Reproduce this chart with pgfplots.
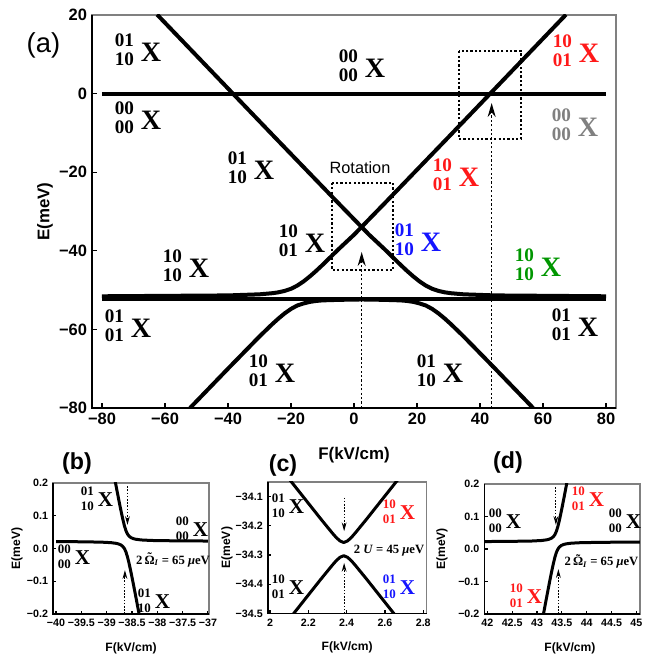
\documentclass[border=0pt]{standalone}
\usepackage{fontspec}
\setmainfont{Liberation Serif}
\setsansfont{Liberation Sans}
\usepackage{pgfplots}
\pgfplotsset{compat=1.18}
\usetikzlibrary{arrows.meta}

\definecolor{sred}{RGB}{255,25,25}
\definecolor{sblue}{RGB}{20,20,255}
\definecolor{sgreen}{RGB}{0,150,0}
\definecolor{sgray}{RGB}{128,128,128}

% state labels: stacked indices followed by a big X
\newcommand{\stA}[3][black]{{\color{#1}\bfseries\raisebox{3.2pt}{\fontsize{13.6}{13.5}\selectfont\begin{tabular}{@{}c@{}}#2\\#3\end{tabular}}\hspace{1.7mm}{\fontsize{20}{20}\selectfont X}}}
\newcommand{\stB}[3][black]{{\color{#1}\bfseries\raisebox{2.6pt}{\fontsize{9.2}{10.7}\selectfont\begin{tabular}{@{}c@{}}#2\\#3\end{tabular}}\hspace{1mm}{\fontsize{15}{15}\selectfont X}}}
% Omega with tilde, subscript I
\newcommand{\OmI}{{\accent"02DC Ω}\textsubscript{\itshape I}}

\tikzset{
  boxsty/.style={line width=0.4mm, dash pattern=on 0.55mm off 0.55mm},
  arrsty/.style={line width=0.4mm, dash pattern=on 0.55mm off 0.55mm, -{Stealth[length=3.5mm,width=2mm]}},
  arrsub/.style={line width=0.25mm, dash pattern=on 0.4mm off 0.4mm, -{Stealth[length=2.2mm,width=1.2mm]}},
}

\pgfplotsset{
  every axis/.append style={
    scale only axis, clip mode=individual,
    tick align=inside, xtick pos=bottom, ytick pos=left,
    axis line style={black!50, line width=0.3mm},
    tick style={black, line width=0.3mm},
  },
  subpanel/.style={
    width=39mm, height=32.75mm, major tick length=0.8mm,
    ticklabel style={font=\sffamily\bfseries\fontsize{7.6}{8}\selectfont},
    xlabel={F(kV/cm)}, ylabel={E(meV)},
    label style={font=\sffamily\bfseries\fontsize{8.6}{9}\selectfont},
  },
}

\begin{document}
\begin{tikzpicture}[x=0.25mm,y=0.25mm]
\useasboundingbox (0,0) rectangle (659,658);

% ---------------- (a) ----------------
\begin{axis}[
  at={(23mm,160.75mm)}, anchor=north west, width=131mm, height=98.25mm,
  xmin=-83.17, xmax=83.17, ymin=-80, ymax=20,
  xtick={-80,-60,...,80}, xticklabels={−80,−60,−40,−20,0,20,40,60,80},
  ytick={-80,-60,...,20}, yticklabels={−80,−60,−40,−20,0,20},
  major tick length=1.3mm,
  ticklabel style={font=\sffamily\bfseries\fontsize{11.7}{12}\selectfont},
  xlabel={F(kV/cm)}, ylabel={E(meV)},
  label style={font=\sffamily\bfseries\fontsize{12}{12}\selectfont},
  xlabel style={at={(axis description cs:0.5,-0.1196)}, anchor=center},
  ylabel style={at={(axis description cs:-0.0897,0.5)}, anchor=center},
]
\addplot[black, line width=1mm] coordinates {(-80,0) (80,0)};
\addplot[black, line width=1mm] coordinates {(-80,-52.2) (80,-52.2)};
% rising branch
\addplot[black, line width=1mm, line join=round] coordinates {
  (-80,-51.58) (-40,-51.36) (-30,-51.08) (-26,-50.80) (-24,-50.57) (-22,-50.21)
  (-20,-49.67) (-18,-48.86) (-16,-47.79) (-14,-46.51) (-12,-45.10) (-10,-43.60)
  (-5,-39.67) (0,-35.92) (10,-27.69) (30,-11.07) (67.3,20.1)};
% falling branch
\addplot[black, line width=1mm, line join=round] coordinates {
  (-62.5,20.1) (-25.2,-11.07) (-5.2,-27.69) (4.8,-35.92) (9.8,-39.67)
  (14.8,-43.60) (16.8,-45.10) (18.8,-46.51) (20.8,-47.79) (22.8,-48.86)
  (24.8,-49.67) (26.8,-50.21) (28.8,-50.57) (30.8,-50.80) (34.8,-51.08)
  (44.8,-51.36) (80,-51.58)};
% lowest branch
\addplot[black, line width=1mm, line join=round] coordinates {
  (-52.05,-80) (-40,-70.0) (-30,-61.8) (-26,-58.7) (-24,-57.25) (-22,-55.92)
  (-20,-54.79) (-18,-53.92) (-16,-53.40) (-14,-53.00) (-12,-52.76) (-10,-52.62)
  (-5,-52.49) (0,-52.41) (2.4,-52.39) (4.8,-52.41) (9.8,-52.49) (14.8,-52.62)
  (16.8,-52.76) (18.8,-53.00) (20.8,-53.40) (22.8,-53.92) (24.8,-54.79)
  (26.8,-55.92) (28.8,-57.25) (30.8,-58.7) (34.8,-61.8) (44.8,-70.0) (56.85,-80)};
\draw[boxsty] (axis cs:-7.0,-22.7) rectangle (axis cs:12.4,-44.9);
\draw[boxsty] (axis cs:33.3,10.8) rectangle (axis cs:53,-11.55);
\draw[arrsty] (axis cs:2.44,-80) -- (axis cs:2.44,-40.3);
\draw[arrsty] (axis cs:43.7,-80) -- (axis cs:43.7,-2.4);
\draw[black, line width=0.45mm] (rel axis cs:0,1) -- (rel axis cs:0,0) -- (rel axis cs:1,0);
\end{axis}

% ---------------- (b) ----------------
\begin{axis}[subpanel,
  at={(13.25mm,43.75mm)}, anchor=north west,
  xmin=-40.06, xmax=-36.98, ymin=-0.2, ymax=0.2,
  xtick={-40,-39.5,...,-37}, xticklabels={−40,−39.5,−39,−38.5,−38,−37.5,−37},
  ytick={-0.2,-0.1,0,0.1,0.2}, yticklabels={−0.2,−0.1,0.0,0.1,0.2},
  xlabel style={at={(axis description cs:0.5,-0.2595)}, anchor=center},
  ylabel style={at={(axis description cs:-0.2308,0.5)}, anchor=center},
]
\addplot[black, line width=0.75mm, line join=round] coordinates {
  (-38.83,0.2035) (-38.80,0.1793) (-38.77,0.1554) (-38.74,0.1320) (-38.71,0.1094)
  (-38.68,0.0882) (-38.65,0.0694) (-38.62,0.0545) (-38.59,0.0443) (-38.56,0.0380)
  (-38.52,0.0331) (-38.47,0.0299) (-38.42,0.0281) (-38.32,0.0261) (-38.12,0.0245)
  (-37.62,0.0233) (-37.00,0.0228)};
\addplot[black, line width=0.75mm, line join=round] coordinates {
  (-40.00,0.0210) (-39.62,0.0207) (-39.12,0.0195) (-38.92,0.0179) (-38.82,0.0159)
  (-38.77,0.0141) (-38.72,0.0109) (-38.68,0.0060) (-38.65,-0.0003) (-38.62,-0.0105)
  (-38.59,-0.0254) (-38.56,-0.0442) (-38.53,-0.0654) (-38.50,-0.0880) (-38.47,-0.1114)
  (-38.44,-0.1353) (-38.41,-0.1595) (-38.38,-0.1840) (-38.36,-0.2000)};
\draw[arrsub] (axis cs:-38.59,0.19) -- (axis cs:-38.59,0.072);
\draw[arrsub] (axis cs:-38.64,-0.2) -- (axis cs:-38.64,-0.066);
\draw[black, line width=0.4mm] (rel axis cs:0,1) -- (rel axis cs:0,0) -- (rel axis cs:1,0);
\end{axis}

% ---------------- (c) ----------------
\begin{axis}[subpanel,
  at={(66.925mm,44mm)}, anchor=north west, width=39.75mm, height=32.9mm,
  xmin=1.988, xmax=2.818, ymin=-34.5, ymax=-34.051,
  xtick={2,2.2,2.4,2.6,2.8}, xticklabels={2,2.2,2.4,2.6,2.8},
  ytick={-34.5,-34.4,-34.3,-34.2,-34.1}, yticklabels={−34.5,−34.4,−34.3,−34.2,−34.1},
  xlabel style={at={(axis description cs:0.5,-0.258)}, anchor=center},
  ylabel style={at={(axis description cs:-0.256,0.5)}, anchor=center},
]
\addplot[black, line width=0.75mm, line join=round] coordinates {
  (2.105,-34.045) (2.145,-34.078) (2.185,-34.111) (2.225,-34.144) (2.265,-34.177)
  (2.305,-34.209) (2.325,-34.225) (2.345,-34.240) (2.365,-34.252) (2.385,-34.2575)
  (2.405,-34.252) (2.425,-34.240) (2.445,-34.225) (2.465,-34.209) (2.505,-34.177)
  (2.545,-34.144) (2.585,-34.111) (2.625,-34.078) (2.665,-34.045)};
\addplot[black, line width=0.75mm, line join=round] coordinates {
  (2.105,-34.515) (2.145,-34.482) (2.185,-34.449) (2.225,-34.416) (2.265,-34.383)
  (2.305,-34.351) (2.325,-34.335) (2.345,-34.320) (2.365,-34.308) (2.385,-34.3025)
  (2.405,-34.308) (2.425,-34.320) (2.445,-34.335) (2.465,-34.351) (2.505,-34.383)
  (2.545,-34.416) (2.585,-34.449) (2.625,-34.482) (2.665,-34.515)};
\draw[arrsub] (axis cs:2.387,-34.104) -- (axis cs:2.387,-34.219);
\draw[arrsub] (axis cs:2.387,-34.5) -- (axis cs:2.387,-34.327);
\draw[black, line width=0.4mm] (rel axis cs:0,1) -- (rel axis cs:0,0) -- (rel axis cs:1,0);
\end{axis}

% ---------------- (d) ----------------
\begin{axis}[subpanel,
  at={(121.075mm,43.5mm)}, anchor=north west, width=38.9mm, height=32.5mm,
  xmin=41.94, xmax=45.07, ymin=-0.2, ymax=0.2,
  xtick={42,42.5,...,45}, xticklabels={42,42.5,43,43.5,44,44.5,45},
  ytick={-0.2,-0.1,0,0.1,0.2}, yticklabels={−0.2,−0.1,0.0,0.1,0.2},
  xlabel style={at={(axis description cs:0.55,-0.2615)}, anchor=center},
  ylabel style={at={(axis description cs:-0.272,0.5)}, anchor=center},
]
\addplot[black, line width=0.75mm, line join=round] coordinates {
  (41.89,0.0229) (42.39,0.0233) (42.89,0.0245) (43.09,0.0261) (43.19,0.0281)
  (43.24,0.0299) (43.29,0.0331) (43.33,0.0380) (43.36,0.0443) (43.39,0.0545)
  (43.42,0.0694) (43.45,0.0882) (43.48,0.1094) (43.51,0.1320) (43.54,0.1554)
  (43.57,0.1793) (43.60,0.2035)};
\addplot[black, line width=0.75mm, line join=round] coordinates {
  (43.13,-0.2000) (43.15,-0.1840) (43.18,-0.1595) (43.21,-0.1353) (43.24,-0.1114)
  (43.27,-0.0880) (43.30,-0.0654) (43.33,-0.0442) (43.36,-0.0254) (43.39,-0.0105)
  (43.42,-0.0003) (43.45,0.0060) (43.49,0.0109) (43.54,0.0141) (43.59,0.0159)
  (43.69,0.0179) (43.89,0.0195) (44.39,0.0207) (45.09,0.0211)};
\draw[arrsub] (axis cs:43.38,0.19) -- (axis cs:43.38,0.074);
\draw[arrsub] (axis cs:43.43,-0.2) -- (axis cs:43.43,-0.062);
\draw[black, line width=0.4mm] (rel axis cs:0,1) -- (rel axis cs:0,0) -- (rel axis cs:1,0);
\end{axis}

% ---------------- annotations ----------------
\node at (43.5,613) {\sffamily\fontsize{19.5}{20}\selectfont (a)};
\node at (77,194) {\sffamily\bfseries\fontsize{16.5}{17}\selectfont (b)};
\node at (283,192) {\sffamily\bfseries\fontsize{16.5}{17}\selectfont (c)};
\node at (508,195) {\sffamily\bfseries\fontsize{16.5}{17}\selectfont (d)};
\node at (360,490) {\sffamily\fontsize{11.6}{12}\selectfont Rotation};

\node[inner sep=0pt] at (138,606) {\stA{01}{10}};
\node[inner sep=0pt] at (138,538) {\stA{00}{00}};
\node[inner sep=0pt] at (251,488) {\stA{01}{10}};
\node[inner sep=0pt] at (362,590) {\stA{00}{00}};
\node[inner sep=0pt] at (576,605) {\stA[sred]{10}{01}};
\node[inner sep=0pt] at (575,531) {\stA[sgray]{00}{00}};
\node[inner sep=0pt] at (456,481) {\stA[sred]{10}{01}};
\node[inner sep=0pt] at (418,416) {\stA[sblue]{01}{10}};
\node[inner sep=0pt] at (538,391) {\stA[sgreen]{10}{10}};
\node[inner sep=0pt] at (575,331) {\stA{01}{01}};
\node[inner sep=0pt] at (440,285) {\stA{01}{10}};
\node[inner sep=0pt] at (302,415) {\stA{10}{01}};
\node[inner sep=0pt] at (186,390) {\stA{10}{10}};
\node[inner sep=0pt] at (128,330) {\stA{01}{01}};
\node[inner sep=0pt] at (272,285) {\stA{10}{01}};

\node[inner sep=0pt] at (97,158) {\stB{01}{10}};
\node[inner sep=0pt] at (192,128) {\stB{00}{00}};
\node[inner sep=0pt] at (74,100) {\stB{00}{00}};
\node[inner sep=0pt] at (154,56) {\stB{01}{10}};
\node at (173,98) {\bfseries\fontsize{9}{9}\selectfont 2\,\OmI\ = 65 \textit{μ}eV};

\node[inner sep=0pt] at (288,151) {\stB{01}{10}};
\node[inner sep=0pt] at (399,145) {\stB[sred]{10}{01}};
\node[inner sep=0pt] at (288,70) {\stB{10}{01}};
\node[inner sep=0pt] at (399,70) {\stB[sblue]{01}{10}};
\node at (389,107) {\bfseries\fontsize{9}{9}\selectfont 2 \textit{U} = 45 \textit{μ}eV};

\node[inner sep=0pt] at (505,136) {\stB{00}{00}};
\node[inner sep=0pt] at (588,158) {\stB[sred]{10}{01}};
\node[inner sep=0pt] at (625,136) {\stB{00}{00}};
\node[inner sep=0pt] at (526,61) {\stB[sred]{10}{01}};
\node at (601.5,96.3) {\bfseries\fontsize{9}{9}\selectfont 2\,\OmI\ = 65 \textit{μ}eV};
\end{tikzpicture}
\end{document}
